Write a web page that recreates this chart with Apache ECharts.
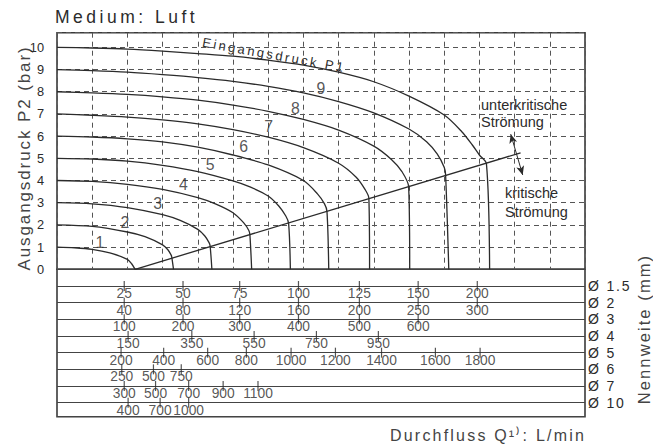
<!DOCTYPE html>
<html>
<head>
<meta charset="utf-8">
<script src="https://cdn.jsdelivr.net/npm/echarts@6/dist/echarts.min.js"></script>
<style>
  html, body { margin: 0; padding: 0; background: #fff; }
  #chart { width: 653px; height: 447px; }
  /* the captions in the original are letter-spaced; pick them by font size */
  #chart text[style*="17.5px"] { letter-spacing: 3.5px; }
  #chart text[style*="17px"] { letter-spacing: 1.9px; }
  #chart text[style*="16.5px"] { letter-spacing: 2.1px; }
  #chart text[style*="16px"] { letter-spacing: 2.2px; }
  #chart text[style*="14px"] { letter-spacing: 1.8px; }
  #chart text[style*="13px"] { letter-spacing: 2.5px; }
</style>
</head>
<body>
<div id="chart"></div>
<script>
// x runs in grid steps (15 dashed columns), y is P2 in bar
var curve1 = [[0, 1], [0.5, 0.97], [1, 0.9], [1.5, 0.74], [2, 0.45], [2.12, 0.25], [2.22, 0]];
var curve2 = [[0, 2], [1, 1.93], [2, 1.68], [2.5, 1.47], [3, 1.1], [3.15, 0.88], [3.24, 0.65], [3.26, 0.55], [3.31, 0]];
var curve3 = [[0, 3], [1, 2.95], [2, 2.78], [3, 2.46], [3.5, 2.2], [4, 1.8], [4.2, 1.5], [4.32, 1.2], [4.35, 1.05], [4.4, 0]];
var curve4 = [[0, 4], [1, 3.96], [2, 3.83], [3, 3.6], [4, 3.23], [4.5, 2.95], [5, 2.55], [5.3, 2.1], [5.45, 1.75], [5.48, 1.55], [5.53, 0]];
var curve5 = [[0, 5], [1, 4.97], [2, 4.87], [3, 4.68], [4, 4.4], [5, 3.98], [5.5, 3.7], [6, 3.3], [6.3, 2.85], [6.5, 2.4], [6.58, 2.07], [6.63, 0]];
var curve6 = [[0, 6], [1, 5.96], [2, 5.88], [3, 5.74], [4, 5.5], [5, 5.15], [6, 4.7], [7, 4.0], [7.4, 3.4], [7.6, 2.95], [7.67, 2.6], [7.72, 0]];
var curve7 = [[0, 7], [1, 6.94], [2, 6.86], [3, 6.73], [4, 6.55], [5, 6.29], [6, 5.95], [7, 5.48], [8, 4.78], [8.5, 4.15], [8.75, 3.6], [8.86, 3.2], [8.88, 0]];
var curve8 = [[0, 8], [1, 7.95], [2, 7.88], [3, 7.77], [4, 7.62], [5, 7.4], [6, 7.12], [7, 6.75], [8, 6.27], [9, 5.55], [9.5, 4.95], [9.8, 4.4], [9.99, 3.72], [10.02, 0]];
var curve9 = [[0, 9], [1, 8.95], [2, 8.88], [3, 8.77], [4, 8.64], [5, 8.47], [6, 8.24], [7, 7.95], [8, 7.56], [9, 7.05], [10, 6.32], [10.5, 5.75], [10.8, 5.2], [11, 4.6], [11.04, 4.25], [11.13, 0]];
var curve10 = [[0, 10], [1, 9.97], [2, 9.92], [3, 9.83], [4, 9.72], [5, 9.6], [6, 9.42], [7, 9.2], [8, 8.88], [9, 8.45], [10, 7.8], [11, 6.95], [11.5, 6.2], [11.8, 5.6], [12, 5.15], [12.2, 4.75], [12.29, 0]];
var curves = [curve1, curve2, curve3, curve4, curve5, curve6, curve7, curve8, curve9, curve10];

var criticalLine = [[2.22, 0], [13.17, 5.25]];
var flowArrow = [[12.89, 6.09], [13.23, 4.25]];

var curveNames = ['1', '2', '3', '4', '5', '6', '7', '8', '9'];
var curveNamePos = [[1.22, 1.22], [1.93, 2.1], [2.86, 2.97], [3.59, 3.8], [4.35, 4.7], [5.3, 5.52], [6.01, 6.42], [6.77, 7.25], [7.5, 8.15]];

// flow scales below the plot, one row per nominal width
var diaLabels = ['Ø 1.5', 'Ø 2', 'Ø 3', 'Ø 4', 'Ø 5', 'Ø 6', 'Ø 7', 'Ø 10'];
var rowPos1 = [1.91, 3.58, 5.19, 6.86, 8.59, 10.26, 11.94];
var rowFlow1 = ['25', '50', '75', '100', '125', '150', '200'];
var rowPos2 = [1.91, 3.58, 5.19, 6.86, 8.59, 10.26, 11.94];
var rowFlow2 = ['40', '80', '120', '160', '200', '250', '300'];
var rowPos3 = [1.91, 3.58, 5.19, 6.86, 8.59, 10.26];
var rowFlow3 = ['100', '200', '300', '400', '500', '600'];
var rowPos4 = [2.02, 3.83, 5.6, 7.37, 9.13];
var rowFlow4 = ['150', '350', '550', '750', '950'];
var rowPos5 = [1.82, 3.03, 4.28, 5.38, 6.65, 7.91, 9.22, 10.75, 12.02];
var rowFlow5 = ['200', '400', '600', '800', '1000', '1200', '1400', '1600', '1800'];
var rowPos6 = [1.84, 2.74, 3.53];
var rowFlow6 = ['250', '500', '750'];
var rowPos7 = [1.91, 2.8, 3.74, 4.72, 5.71];
var rowFlow7 = ['300', '500', '700', '900', '1100'];
var rowPos8 = [2.02, 2.93, 3.74];
var rowFlow8 = ['400', '700', '1000'];
var rowPos = [rowPos1, rowPos2, rowPos3, rowPos4, rowPos5, rowPos6, rowPos7, rowPos8];
var rowFlow = [rowFlow1, rowFlow2, rowFlow3, rowFlow4, rowFlow5, rowFlow6, rowFlow7, rowFlow8];

var FONT = 'Liberation Sans';
var INK = '#2b2b2b';

function buildSeries() {
    var list = [];
    curves.forEach(function (c, i) {
        list.push({
            type: 'line',
            name: 'P1 ' + (i + 1),
            data: c,
            symbol: 'none',
            smooth: 0.3,
            lineStyle: { color: INK, width: 1.3 },
            z: 3
        });
    });
    list.push({
        type: 'line',
        data: criticalLine,
        symbol: 'none',
        lineStyle: { color: INK, width: 1.3 },
        markLine: {
            silent: true,
            symbol: ['arrow', 'arrow'],
            symbolSize: [6, 9],
            label: { show: false },
            lineStyle: { color: INK, width: 1, type: 'solid' },
            data: [[{ coord: flowArrow[0] }, { coord: flowArrow[1] }]]
        },
        z: 3
    });
    list.push({
        type: 'scatter',
        data: curveNamePos,
        symbolSize: 1,
        itemStyle: { color: 'rgba(0,0,0,0)' },
        label: {
            show: true,
            position: 'inside',
            formatter: function (p) { return curveNames[p.dataIndex]; },
            fontFamily: FONT,
            fontSize: 15.8,
            color: INK
        },
        z: 4
    });
    rowPos.forEach(function (pos, r) {
        list.push({
            type: 'scatter',
            xAxisIndex: 1,
            yAxisIndex: 1,
            data: pos.map(function (x) { return [x, r + 1]; }),
            symbol: 'rect',
            symbolSize: [1.2, 10],
            itemStyle: { color: INK },
            label: {
                show: true,
                position: 'inside',
                offset: [0, 7.5],
                formatter: function (p) { return rowFlow[r][p.dataIndex]; },
                fontFamily: FONT,
                fontSize: 13.8,
                color: INK
            }
        });
    });
    return list;
}

var dashed = { show: true, lineStyle: { color: '#555', width: 1, type: [5, 4] } };

var option = {
    animation: false,
    backgroundColor: '#fff',
    grid: [
        { left: 57, top: 32.7, width: 528, height: 236.6, show: true, borderColor: '#3a3a3a', borderWidth: 1.6 },
        { left: 57, top: 269.3, width: 528, height: 147.4, show: true, borderColor: '#3a3a3a', borderWidth: 1.6 }
    ],
    xAxis: [
        {
            gridIndex: 0, type: 'value', min: 0, max: 15, interval: 1,
            axisLine: { show: false }, axisTick: { show: false }, axisLabel: { show: false },
            splitLine: dashed
        },
        { gridIndex: 1, type: 'value', min: 0, max: 15, show: false }
    ],
    yAxis: [
        {
            gridIndex: 0, type: 'value', min: 0, max: 10.66, interval: 1,
            axisLine: { show: false }, axisTick: { show: false },
            axisLabel: {
                margin: 13, fontSize: 12.8, fontFamily: FONT, color: INK,
                formatter: function (v) { return Math.abs(v - Math.round(v)) < 1e-6 ? String(Math.round(v)) : ''; }
            },
            splitLine: dashed
        },
        {
            gridIndex: 1, type: 'value', min: 0, max: 8.84, interval: 1, inverse: true, position: 'right',
            axisLine: { show: false }, axisTick: { show: false },
            axisLabel: {
                margin: 3, fontSize: 14, fontFamily: FONT, color: INK,
                formatter: function (v) {
                    var k = Math.round(v);
                    return (Math.abs(v - k) < 1e-6 && k >= 1) ? diaLabels[k - 1] : '';
                }
            },
            splitLine: { show: true, lineStyle: { color: '#444', width: 1.2 } }
        }
    ],
    graphic: {
        elements: [
            {
                type: 'text', x: 55, y: 17,
                style: { text: 'Medium: Luft', fontFamily: FONT, fontSize: 17.5, fill: INK,
                    align: 'left', verticalAlign: 'middle', textAlign: 'left', textVerticalAlign: 'middle' }
            },
            {
                type: 'text', x: 24, y: 158, rotation: Math.PI / 2,
                style: { text: 'Ausgangsdruck P2 (bar)', fontFamily: FONT, fontSize: 17, fill: '#444',
                    align: 'center', verticalAlign: 'middle', textAlign: 'center', textVerticalAlign: 'middle' }
            },
            {
                type: 'text', x: 644, y: 329, rotation: Math.PI / 2,
                style: { text: 'Nennweite (mm)', fontFamily: FONT, fontSize: 16.5, fill: '#444',
                    align: 'center', verticalAlign: 'middle', textAlign: 'center', textVerticalAlign: 'middle' }
            },
            {
                type: 'text', x: 488, y: 435,
                style: { text: 'Durchfluss Q¹⁾: L/min', fontFamily: FONT, fontSize: 16, fill: '#444',
                    align: 'center', verticalAlign: 'middle', textAlign: 'center', textVerticalAlign: 'middle' }
            },
            {
                type: 'text', x: 274, y: 55, rotation: -0.178,
                style: { text: 'Eingangsdruck P1', fontFamily: FONT, fontSize: 13, fill: INK,
                    align: 'center', verticalAlign: 'middle', textAlign: 'center', textVerticalAlign: 'middle' }
            },
            {
                type: 'text', x: 481, y: 97,
                style: { text: 'unterkritische\nStrömung', fontFamily: FONT, fontSize: 14.5, lineHeight: 16.7, fill: INK,
                    align: 'left', verticalAlign: 'top', textAlign: 'left', textVerticalAlign: 'top' }
            },
            {
                type: 'text', x: 505, y: 184,
                style: { text: 'kritische\nStrömung', fontFamily: FONT, fontSize: 14.5, lineHeight: 18.4, fill: INK,
                    align: 'left', verticalAlign: 'top', textAlign: 'left', textVerticalAlign: 'top' }
            }
        ]
    },
    series: buildSeries()
};

var myChart = echarts.init(document.getElementById('chart'), null, { renderer: 'svg' });
myChart.setOption(option);
</script>
</body>
</html>
